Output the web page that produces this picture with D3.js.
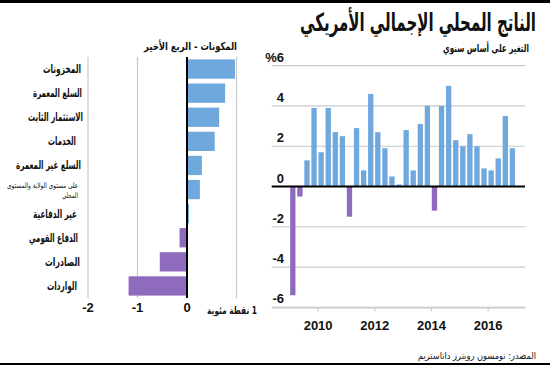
<!DOCTYPE html>
<html><head><meta charset="utf-8">
<script src="https://cdn.jsdelivr.net/npm/d3@7"></script>
<style>
body{margin:0;background:#fff;}
svg{display:block;font-family:"Liberation Sans",Arial,"DejaVu Sans",sans-serif;}
.ar{font-family:"DejaVu Sans Condensed","DejaVu Sans",sans-serif;}
</style></head>
<body>
<svg id="c" width="550" height="366"></svg>
<script>
// ---- data ----
const compCategories = ["المخزونات","السلع المعمرة","الاستثمار الثابت","الخدمات","السلع غير المعمرة","على مستوى الولاية والمستوى|المحلي","غير الدفاعية","الدفاع القومي","الصادرات","الواردات"];
const compValues = [0.97, 0.77, 0.65, 0.56, 0.30, 0.26, 0.04, -0.15, -0.55, -1.18];
const compTicks = [-2, -1, 0];

const gdpQuarters = ["2009Q1","2009Q2","2009Q3","2009Q4","2010Q1","2010Q2","2010Q3","2010Q4",
 "2011Q1","2011Q2","2011Q3","2011Q4","2012Q1","2012Q2","2012Q3","2012Q4",
 "2013Q1","2013Q2","2013Q3","2013Q4","2014Q1","2014Q2","2014Q3","2014Q4",
 "2015Q1","2015Q2","2015Q3","2015Q4","2016Q1","2016Q2","2016Q3","2016Q4"];
const gdpValues = [-5.4,-0.5,1.3,3.9,1.7,3.9,2.7,2.5,
 -1.5,2.9,0.8,4.6,2.7,1.9,0.5,0.1,
 2.8,0.8,3.1,4.0,-1.2,4.0,5.0,2.3,
 2.0,2.6,2.0,0.9,0.8,1.4,3.5,1.9];
const gdpYTicks = [-6,-4,-2,0,2,4,6];
const gdpYTickLabels = ["-6","-4","-2","0","2","4","%6"];
const yearTicks = [2010, 2012, 2014, 2016];

const title = "الناتج المحلي الإجمالي الأمريكي";
const leftSub = "المكونات - الربع الأخير";
const rightSub = "التغير على أساس سنوي";
const unitLabel = "1 نقطة مئوية";
const source = "المصدر: تومسون رويترز داتاستريم";

const BLUE = "#6fa8dc", PURPLE = "#8e6bbd", GRID = "#c8c8c8";

const svg = d3.select("#c");

// frame lines
svg.append("line").attr("x1",0).attr("x2",550).attr("y1",1.5).attr("y2",1.5).attr("stroke","#000").attr("stroke-width",3);
svg.append("line").attr("x1",0).attr("x2",550).attr("y1",364).attr("y2",364).attr("stroke","#000").attr("stroke-width",2);

// right-aligned Arabic text (right edge at x), horizontally scaled to a target width
function rtext(x,y,t,size,weight,w,rtl){
  const g = svg.append("g").attr("transform",`translate(${x},${y})`);
  const el = g.append("text").attr("class","ar").attr("x",0).attr("y",0)
    .attr("font-size",size).attr("font-weight",weight||"bold").attr("fill","#111").text(t);
  if(rtl) el.attr("direction","rtl").attr("text-anchor","start");
  else el.attr("text-anchor","end");
  if(w){
    const n = el.node().getComputedTextLength();
    if(n>0) g.attr("transform",`translate(${x},${y}) scale(${w/n},1)`);
  }
  return el;
}
rtext(536,31,title,25,"bold",236);
rtext(529,52,rightSub,11,"bold",86);
rtext(237,50,leftSub,11,"bold",93);
rtext(536,359,source,9.5,"normal",118);

// ---- left chart ----
const xL = d3.scaleLinear().domain([-2,1]).range([88,236.5]);
const yL = d3.scaleBand().domain(compCategories).range([57,298]).paddingInner(0.2).paddingOuter(0.1);

svg.append("g").selectAll("line").data([-2,-1,1]).join("line")
  .attr("x1",d=>xL(d)).attr("x2",d=>xL(d)).attr("y1",57).attr("y2",298)
  .attr("stroke",GRID).attr("stroke-width",1.2);

svg.append("g").selectAll("rect").data(compValues).join("rect")
  .attr("x",d=>xL(Math.min(0,d))).attr("width",d=>Math.abs(xL(d)-xL(0)))
  .attr("y",(d,i)=>yL(compCategories[i])).attr("height",yL.bandwidth())
  .attr("fill",d=>d>=0?BLUE:PURPLE);

svg.append("line").attr("x1",xL(0)).attr("x2",xL(0)).attr("y1",57).attr("y2",298).attr("stroke","#000").attr("stroke-width",2);

// label right edges and widths
const labelRight = [81,82,83,76,81,78,77,78,80,77];
const labelWidth = [38,49,55,28,65,71,44,49,35,30];
compCategories.forEach((c,i)=>{
  const cy = yL(c)+yL.bandwidth()/2;
  if(c.includes("|")){
    const parts = c.split("|");
    rtext(labelRight[i],cy-2,parts[0],7.5,"normal",labelWidth[i]);
    rtext(labelRight[i],cy+8,parts[1],7.5,"normal",16);
  } else {
    rtext(labelRight[i],cy+4,c,11.5,"bold",labelWidth[i]);
  }
});

svg.append("g").selectAll("text").data(compTicks).join("text")
  .attr("x",d=>xL(d)).attr("y",312).attr("text-anchor","middle")
  .attr("font-size",13).attr("font-weight","bold").attr("fill","#111").text(d=>d);
rtext(257,314,unitLabel,10.5,"bold",50,true);

// ---- right chart ----
const xR = d3.scaleLinear().domain([2008.38,2017.32]).range([271.7,525]);
const yR = d3.scaleLinear().domain([-6,6]).range([307.3,65.7]);

svg.append("g").selectAll("line").data(gdpYTicks.filter(d=>d!==0)).join("line")
  .attr("x1",271.7).attr("x2",525).attr("y1",d=>yR(d)).attr("y2",d=>yR(d))
  .attr("stroke",GRID).attr("stroke-width",1.2);

const qPos = q => +q.slice(0,4) + (+q.slice(5)-0.5)/4;
const bw = 5.3;
svg.append("g").selectAll("rect").data(gdpValues).join("rect")
  .attr("x",(d,i)=>xR(qPos(gdpQuarters[i]))-bw/2).attr("width",bw)
  .attr("y",d=>yR(Math.max(0,d))).attr("height",d=>Math.abs(yR(d)-yR(0)))
  .attr("fill",d=>d>=0?BLUE:PURPLE);

svg.append("line").attr("x1",271.7).attr("x2",525).attr("y1",yR(0)).attr("y2",yR(0)).attr("stroke","#000").attr("stroke-width",2);

svg.append("g").selectAll("text").data(gdpYTicks).join("text")
  .attr("x",284).attr("y",d=>yR(d)-4).attr("text-anchor","end")
  .attr("font-size",13).attr("font-weight","bold").attr("fill","#111")
  .text((d,i)=>gdpYTickLabels[i]);

const xAxis = d3.axisBottom(xR).tickValues(yearTicks).tickFormat(d3.format("d")).tickSize(4).tickSizeOuter(0);
const gx = svg.append("g").attr("transform",`translate(0,${yR(-6)})`).call(xAxis);
gx.select(".domain").attr("stroke",GRID).attr("stroke-width",1.2);
gx.selectAll(".tick line").attr("stroke",GRID).attr("stroke-width",1.2);
gx.selectAll(".tick text").attr("font-size",13).attr("font-weight","bold").attr("fill","#111").attr("dy","1.2em")
  .attr("font-family",'"Liberation Sans",Arial,sans-serif');
</script>
</body></html>
